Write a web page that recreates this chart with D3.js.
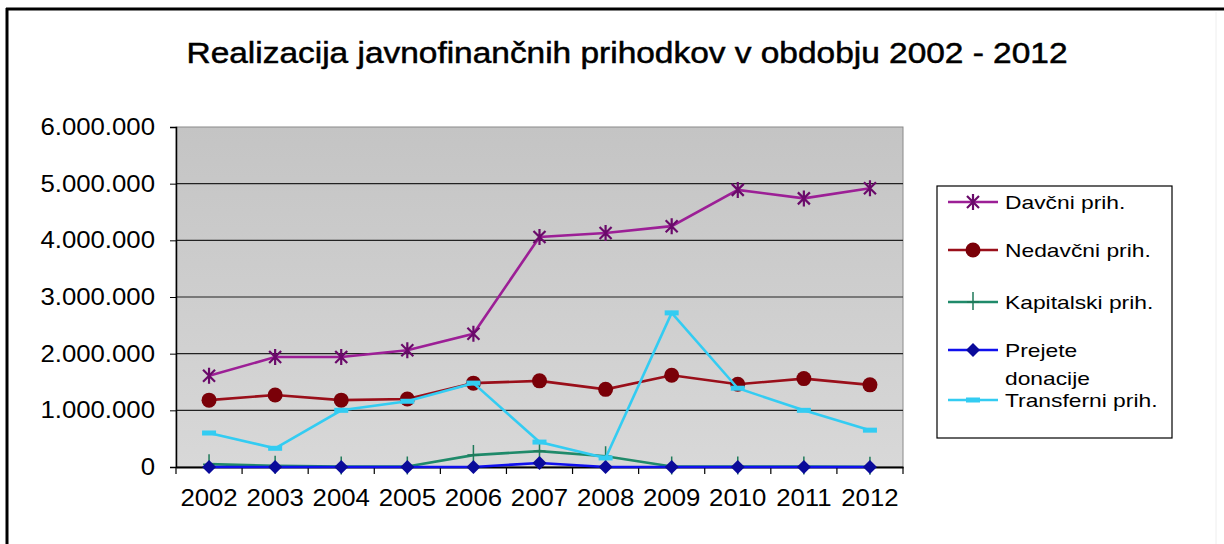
<!DOCTYPE html>
<html>
<head>
<meta charset="utf-8">
<script src="https://cdn.jsdelivr.net/npm/d3@7"></script>
<style>
  body { margin: 0; background: #fff; }
  text { font-family: "Liberation Sans", Arial, sans-serif; fill: #000; }
</style>
</head>
<body>
<svg id="chart" width="1224" height="544"></svg>
<script>
// data
const years = ["2002", "2003", "2004", "2005", "2006", "2007", "2008", "2009", "2010", "2011", "2012"]
const davcni = [1610000, 1940000, 1940000, 2060000, 2350000, 4060000, 4130000, 4250000, 4890000, 4740000, 4920000]
const nedavcni = [1180000, 1270000, 1180000, 1200000, 1480000, 1520000, 1370000, 1620000, 1460000, 1560000, 1450000]
const kapitalski = [50000, 20000, 10000, 10000, 210000, 280000, 190000, 10000, 10000, 10000, 5000]
const prejete = [0, 0, 0, 0, 0, 70000, 0, 0, 0, 0, 0]
const transferni = [600000, 330000, 1000000, 1160000, 1480000, 440000, 160000, 2720000, 1390000, 1000000, 650000]
const seriesNames = ["Davčni prih.", "Nedavčni prih.", "Kapitalski prih.", "Prejete donacije", "Transferni prih."]
const yTicks = [0, 1000000, 2000000, 3000000, 4000000, 5000000, 6000000]

const series = [
  { name: seriesNames[0], values: davcni, color: "#9c1f96", mark: "#6a0a6a", marker: "asterisk" },
  { name: seriesNames[1], values: nedavcni, color: "#9a0f1a", mark: "#7a0008", marker: "circle" },
  { name: seriesNames[2], values: kapitalski, color: "#1f8a6a", mark: "#1f7a5a", marker: "plus" },
  { name: seriesNames[3], values: prejete, color: "#1010ee", mark: "#0a0a9a", marker: "diamond" },
  { name: seriesNames[4], values: transferni, color: "#33ccf2", mark: "#33ccf2", marker: "dash" }
]

const plot = { left: 176, right: 903, top: 127, bottom: 467 }

const svg = d3.select("#chart")

// stretch text horizontally like the picture (scanned chart is wider than tall)
const stretch = (sel, k) => sel.each(function () {
  const w = this.getComputedTextLength()
  d3.select(this).attr("textLength", w * k).attr("lengthAdjust", "spacingAndGlyphs")
})

// frame
svg.append("line").attr("x1", 7).attr("x2", 7).attr("y1", 8).attr("y2", 544).attr("stroke", "#000").attr("stroke-width", 3)
svg.append("line").attr("x1", 6).attr("x2", 1224).attr("y1", 9).attr("y2", 9).attr("stroke", "#000").attr("stroke-width", 3)
svg.append("line").attr("x1", 1216).attr("x2", 1216).attr("y1", 12).attr("y2", 544).attr("stroke", "#eee").attr("stroke-width", 1)

// title
svg.append("text").attr("x", 627).attr("y", 63).attr("text-anchor", "middle")
  .style("font-size", "29px").attr("stroke", "#000").attr("stroke-width", 0.5)
  .text("Realizacija javnofinančnih prihodkov v obdobju 2002 - 2012")
  .attr("textLength", 881).attr("lengthAdjust", "spacingAndGlyphs")

const x = d3.scaleBand().domain(years).range([plot.left, plot.right])
const y = d3.scaleLinear().domain([0, 6000000]).range([plot.bottom, plot.top])
const cx = d => x(d) + x.bandwidth() / 2

// plot background
const grad = svg.append("defs").append("linearGradient").attr("id", "bg").attr("x1", 0).attr("x2", 0).attr("y1", 0).attr("y2", 1)
grad.append("stop").attr("offset", "0%").attr("stop-color", "#c4c4c4")
grad.append("stop").attr("offset", "100%").attr("stop-color", "#d8d8d8")
svg.append("rect").attr("x", plot.left).attr("y", plot.top)
  .attr("width", plot.right - plot.left).attr("height", plot.bottom - plot.top)
  .attr("fill", "url(#bg)").attr("stroke", "#8a8a8a").attr("stroke-width", 1)

// gridlines
svg.append("g").selectAll("line").data(yTicks.filter(d => d > 0 && d < 6000000)).join("line")
  .attr("x1", plot.left).attr("x2", plot.right)
  .attr("y1", d => y(d)).attr("y2", d => y(d))
  .attr("stroke", "#222").attr("stroke-width", 1.2)

// y axis
const yAxis = d3.axisLeft(y).tickValues(yTicks).tickSize(6).tickPadding(15)
  .tickFormat(d => d3.format(",")(d).replace(/,/g, "."))
const yg = svg.append("g").attr("transform", `translate(${plot.left},0)`).call(yAxis)
yg.select(".domain").attr("stroke", "#000").attr("stroke-width", 1.5)
yg.selectAll(".tick line").attr("stroke", "#000")
yg.selectAll("text").style("font-size", "23px").attr("font-family", null).call(stretch, 1.12)

// x axis
const xAxis = d3.axisBottom(x).tickSize(0).tickPadding(23)
const xg = svg.append("g").attr("transform", `translate(0,${plot.bottom})`).call(xAxis)
xg.select(".domain").attr("stroke", "#000").attr("stroke-width", 2)
xg.selectAll("text").style("font-size", "23px").attr("font-family", null).call(stretch, 1.12)
xg.selectAll(".edge").data(years.map(d => x(d)).concat([plot.right])).join("line")
  .attr("class", "edge")
  .attr("x1", d => d).attr("x2", d => d).attr("y1", 0).attr("y2", 7)
  .attr("stroke", "#000").attr("stroke-width", 1.2)

// markers
const drawMarker = (g, type, color) => {
  if (type === "asterisk") {
    g.append("path").attr("d", "M-6,-6L6,6M-6,6L6,-6M0,-8L0,8")
      .attr("stroke", color).attr("stroke-width", 2.2).attr("fill", "none")
  } else if (type === "circle") {
    g.append("circle").attr("r", 7.5).attr("fill", color)
  } else if (type === "plus") {
    g.append("path").attr("d", "M0,-10L0,8M-6,0L6,0")
      .attr("stroke", color).attr("stroke-width", 1.5).attr("fill", "none")
  } else if (type === "diamond") {
    g.append("path").attr("d", "M0,-7L7,0L0,7L-7,0Z").attr("fill", color)
  } else if (type === "dash") {
    g.append("rect").attr("x", -7).attr("y", -2.5).attr("width", 14).attr("height", 5).attr("fill", color)
  }
}

const line = d3.line().x((d, i) => cx(years[i])).y(d => y(d))

series.forEach(s => {
  const g = svg.append("g")
  g.append("path").datum(s.values).attr("d", line)
    .attr("fill", "none").attr("stroke", s.color).attr("stroke-width", 2.6)
  s.values.forEach((v, i) => {
    const m = g.append("g").attr("transform", `translate(${cx(years[i])},${y(v)})`)
    drawMarker(m, s.marker, s.mark)
  })
})

// legend
const legend = svg.append("g")
legend.append("rect").attr("x", 937).attr("y", 186).attr("width", 235).attr("height", 252)
  .attr("fill", "#fff").attr("stroke", "#000").attr("stroke-width", 1.2)
const legendY = [202, 250, 302, 350, 400]
series.forEach((s, i) => {
  const ly = legendY[i]
  legend.append("line").attr("x1", 948).attr("x2", 998).attr("y1", ly).attr("y2", ly)
    .attr("stroke", s.color).attr("stroke-width", 2.6)
  drawMarker(legend.append("g").attr("transform", `translate(973,${ly})`), s.marker, s.mark)
  const words = i === 3 ? ["Prejete", "donacije"] : [s.name]
  words.forEach((w, j) => {
    legend.append("text").attr("x", 1005).attr("y", ly + 7 + j * 28)
      .style("font-size", "19px").text(w).call(stretch, 1.2)
  })
})
</script>
</body>
</html>
